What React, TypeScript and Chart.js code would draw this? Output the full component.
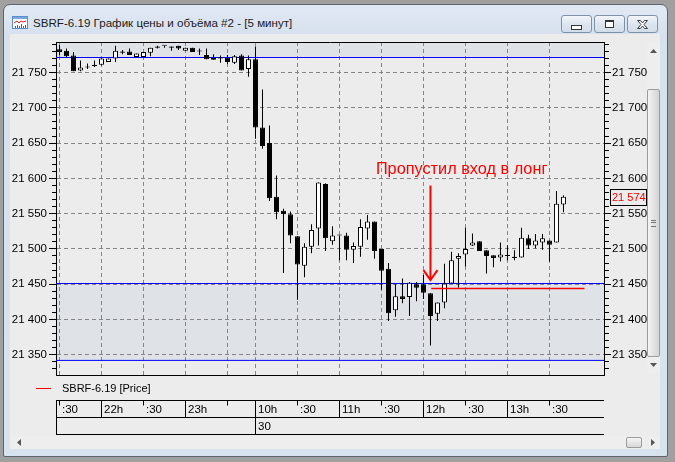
import React, { useEffect, useRef } from "react";
import { Chart, registerables } from "chart.js";

Chart.register(...registerables);

const FONT = "'Liberation Sans', Arial, sans-serif";

const windowTitle = "SBRF-6.19 График цены и объёма #2 - [5 минут]";
const seriesName = "SBRF-6.19 [Price]";
const annotationText = "Пропустил вход в лонг";

// 5-minute candles; index 0 = 21:30, index 28 = 10:00 (30th)
const opens = [
  21783, 21781, 21774, 21753, 21757, 21761, 21761, 21765, 21770, 21780,
  21780, 21772, 21772, 21778, 21787, 21788, 21787, 21788, 21781, 21785,
  21780, 21775, 21768, 21770, 21771, 21764, 21774, 21755, 21769, 21672,
  21650, 21574, 21554, 21549, 21518, 21476, 21503, 21529, 21592, 21511,
  21519, 21519, 21499, 21503, 21529, 21539, 21500, 21472, 21413, 21433,
  21432, 21450, 21450, 21437, 21408, 21424, 21451, 21486, 21492, 21505,
  21511, 21498, 21491, 21488, 21490, 21489, 21488, 21515, 21505, 21509,
  21512, 21509, 21563,
];
const highs = [
  21789, 21784, 21779, 21767, 21763, 21767, 21770, 21770, 21788, 21782,
  21784, 21777, 21779, 21785, 21788, 21788, 21787, 21788, 21785, 21785,
  21784, 21784, 21776, 21774, 21775, 21775, 21776, 21774, 21787, 21726,
  21675, 21604, 21557, 21553, 21518, 21508, 21535, 21594, 21593, 21532,
  21519, 21523, 21509, 21542, 21548, 21539, 21500, 21480, 21450, 21458,
  21453, 21453, 21463, 21437, 21424, 21479, 21496, 21494, 21530, 21522,
  21511, 21498, 21491, 21509, 21505, 21498, 21530, 21520, 21521, 21521,
  21512, 21582, 21576,
];
const lows = [
  21774, 21772, 21752, 21752, 21755, 21758, 21760, 21765, 21765, 21776,
  21775, 21772, 21772, 21773, 21784, 21785, 21781, 21782, 21781, 21779,
  21775, 21769, 21768, 21764, 21762, 21762, 21753, 21744, 21656, 21642,
  21568, 21542, 21466, 21508, 21428, 21460, 21494, 21505, 21497, 21506,
  21484, 21484, 21480, 21489, 21513, 21486, 21442, 21398, 21404, 21423,
  21405, 21426, 21429, 21363, 21398, 21416, 21451, 21445, 21475, 21504,
  21497, 21465, 21474, 21482, 21484, 21484, 21488, 21500, 21501, 21499,
  21482, 21509, 21552,
];
const closes = [
  21779, 21773, 21752, 21757, 21757, 21759, 21770, 21770, 21781, 21778,
  21775, 21777, 21779, 21785, 21785, 21788, 21785, 21784, 21785, 21779,
  21780, 21769, 21771, 21770, 21765, 21773, 21753, 21769, 21672, 21646,
  21572, 21552, 21549, 21519, 21478, 21503, 21527, 21594, 21515, 21519,
  21519, 21499, 21504, 21531, 21539, 21497, 21469, 21409, 21433, 21429,
  21452, 21445, 21438, 21405, 21424, 21451, 21484, 21490, 21500, 21509,
  21497, 21490, 21487, 21492, 21490, 21487, 21516, 21505, 21512, 21515,
  21506, 21564, 21574,
];

const priceMin = 21321.3;
const priceMax = 21793.3;
const priceTickFrom = 21330;
const priceTickTo = 21790;
const priceTickStep = 10;
const priceLabelStep = 50;
const indexMin = -0.5;
const indexMax = 77.79;

const timeTickIdx = [0, 6, 12, 18, 24, 28, 34, 40, 46, 52, 58, 64, 70];
const timeTickLabels = [":30", "22h", ":30", "23h", "", "10h", ":30", "11h", ":30", "12h", ":30", "13h", ":30"];
const hourDividerIdx = [6, 18, 28, 40, 52, 64];
const dateIdx = [28];
const dateLabels = ["30"];

const levelTop = 21771.3;
const levelMid = 21451;
const levelBottom = 21342;
const missedEntryLevel = 21444;
const missedEntryFrom = 53.1;
const missedEntryTo = 75;
const arrowIdx = 53;
const arrowTop = 21590;
const arrowTip = 21456;
const arrowWing = 21470;
const arrowWingSpan = 1;
const annotationIdx = 45.2;
const annotationPrice = 21612;
const lastPrice = 21574;

const fmtPrice = (v: number) =>
  `${Math.floor(v / 1000)} ${String(Math.round(v) % 1000).padStart(3, "0")}`;

const hline = (v: number, a = indexMin, b = indexMax) => [
  { x: a, y: v },
  { x: b, y: v },
];

const overlayPlugin = {
  id: "overlay",
  afterDraw(chart: any) {
    const { ctx, chartArea: a, scales } = chart;
    const xs = scales.x;
    const ys = scales.y;
    ctx.save();
    ctx.lineWidth = 1;
    ctx.strokeStyle = "#000";
    // top frame line
    const top = Math.round(a.top) + 0.5;
    ctx.beginPath();
    ctx.moveTo(a.left, top);
    ctx.lineTo(a.right + 1, top);
    ctx.stroke();

    // annotation
    ctx.font = `16.3px ${FONT}`;
    ctx.fillStyle = "#ff0000";
    ctx.textAlign = "left";
    ctx.textBaseline = "middle";
    ctx.fillText(annotationText, xs.getPixelForValue(annotationIdx), ys.getPixelForValue(annotationPrice));

    // last price marker on right axis
    const py = Math.round(ys.getPixelForValue(lastPrice));
    ctx.fillStyle = "#ececec";
    ctx.fillRect(a.right + 6, py - 8, 37, 16);
    ctx.strokeStyle = "#000";
    ctx.strokeRect(a.right + 6.5, py - 7.5, 36, 16);
    ctx.font = `11px ${FONT}`;
    ctx.fillStyle = "#ff0000";
    ctx.fillText(fmtPrice(lastPrice), a.right + 8, py + 0.5);

    // legend
    ctx.font = `11px ${FONT}`;
    const ly = Math.round(a.bottom + 13) + 0.5;
    ctx.strokeStyle = "#ff0000";
    ctx.beginPath();
    ctx.moveTo(a.left - 20, ly);
    ctx.lineTo(a.left - 5, ly);
    ctx.stroke();
    ctx.fillStyle = "#000";
    ctx.fillText(seriesName, a.left + 6, ly);

    // time table
    const t0 = Math.round(a.bottom + 25) + 0.5;
    const t1 = t0 + 17;
    const t2 = t0 + 34;
    ctx.strokeStyle = "#000";
    ctx.beginPath();
    [t0, t1, t2].forEach((ty) => {
      ctx.moveTo(a.left, ty);
      ctx.lineTo(a.right, ty);
    });
    ctx.moveTo(Math.round(a.left) + 0.5, t0);
    ctx.lineTo(Math.round(a.left) + 0.5, t2);
    timeTickIdx.forEach((i) => {
      const px = Math.floor(xs.getPixelForValue(i)) + 0.5;
      const full = hourDividerIdx.includes(i);
      const day = dateIdx.includes(i);
      ctx.moveTo(px, t0);
      ctx.lineTo(px, day ? t2 : full ? t1 : t0 + 5);
    });
    ctx.stroke();
    ctx.fillStyle = "#000";
    ctx.font = `11.5px ${FONT}`;
    timeTickIdx.forEach((i, k) => {
      const px = Math.floor(xs.getPixelForValue(i));
      ctx.fillText(timeTickLabels[k], px + 3, (t0 + t1) / 2 + 0.5);
    });
    dateIdx.forEach((i, k) => {
      const px = Math.floor(xs.getPixelForValue(i));
      ctx.fillText(dateLabels[k], px + 3, (t1 + t2) / 2 + 0.5);
    });
    ctx.restore();
  },
};

const majorTick = (c: any) => c.tick && Math.round(c.tick.value) % priceLabelStep === 0;

export default function App() {
  const canvasRef = useRef<HTMLCanvasElement | null>(null);

  useEffect(() => {
    document.body.style.margin = "0";
    document.body.style.background = "#a0a0a0";
    const canvas = canvasRef.current;
    if (!canvas) return;

    const idx = opens.map((_, i) => i);
    const bodyData = idx.map((i) => ({
      x: i,
      y: [Math.min(opens[i], closes[i]), Math.max(opens[i], closes[i])],
    }));
    const wickData = idx.map((i) => ({ x: i, y: [lows[i], highs[i]] }));
    const bodyColors = idx.map((i) => (closes[i] > opens[i] ? "#ffffff" : "#000000"));

    const priceTicks: { value: number }[] = [];
    for (let v = priceTickFrom; v <= priceTickTo; v += priceTickStep) priceTicks.push({ value: v });

    const lineBase = { type: "line", pointRadius: 0, tension: 0, borderWidth: 1 };
    const axisFont = { family: FONT, size: 11.5 };

    const chart = new Chart(canvas, {
      type: "bar",
      data: {
        datasets: [
          {
            ...lineBase,
            label: "arrow",
            data: [
              { x: arrowIdx, y: arrowTop },
              { x: arrowIdx, y: arrowTip },
            ],
            borderColor: "#ff0000",
            borderWidth: 2,
            fill: false,
            order: -2,
          },
          {
            ...lineBase,
            label: "arrowHead",
            data: [
              { x: arrowIdx - arrowWingSpan, y: arrowWing },
              { x: arrowIdx, y: arrowTip },
              { x: arrowIdx + arrowWingSpan, y: arrowWing },
            ],
            borderColor: "#ff0000",
            borderWidth: 2,
            fill: false,
            order: -2,
          },
          {
            ...lineBase,
            label: "missed",
            data: hline(missedEntryLevel, missedEntryFrom, missedEntryTo),
            borderColor: "#ff0000",
            borderWidth: 1.5,
            fill: false,
            order: -1,
          },
          {
            type: "bar",
            label: seriesName,
            data: bodyData,
            backgroundColor: bodyColors,
            borderColor: "#000000",
            borderWidth: 1,
            borderSkipped: false,
            barThickness: 5,
            minBarLength: 1,
            grouped: false,
            inflateAmount: 0,
            order: 0,
          },
          {
            type: "bar",
            label: "wicks",
            data: wickData,
            backgroundColor: "#000000",
            borderWidth: 0,
            barThickness: 1,
            grouped: false,
            inflateAmount: 0,
            order: 1,
          },
          {
            ...lineBase,
            label: "top",
            data: hline(levelTop),
            borderColor: "#0000ff",
            backgroundColor: "#dfe3e7",
            fill: "end",
            order: 2,
          },
          {
            ...lineBase,
            label: "mid",
            data: hline(levelMid),
            borderColor: "#0000ff",
            backgroundColor: "#dfe3e7",
            fill: "+1",
            order: 2,
          },
          {
            ...lineBase,
            label: "bottom",
            data: hline(levelBottom),
            borderColor: "#0000ff",
            fill: false,
            order: 2,
          },
        ] as any,
      },
      options: {
        responsive: false,
        animation: false,
        events: [],
        layout: { padding: { top: 12, left: 0, right: 0, bottom: 65 } },
        plugins: {
          legend: { display: false },
          tooltip: { enabled: false },
          filler: { drawTime: "beforeDraw" },
        } as any,
        scales: {
          x: {
            type: "linear",
            min: indexMin,
            max: indexMax,
            offset: false,
            afterBuildTicks: (s: any) => {
              s.ticks = timeTickIdx.map((v) => ({ value: v }));
            },
            afterFit: (s: any) => {
              s.height = 0;
            },
            ticks: { display: false },
            grid: { offset: false, color: "#858585", drawTicks: false, tickLength: 0 },
            border: { display: true, color: "#000", dash: [4, 3] },
          },
          y: {
            position: "left",
            min: priceMin,
            max: priceMax,
            beginAtZero: false,
            afterBuildTicks: (s: any) => {
              s.ticks = priceTicks.map((t) => ({ ...t }));
            },
            afterFit: (s: any) => {
              s.width = 48;
            },
            ticks: {
              autoSkip: false,
              padding: 2,
              color: "#000",
              font: axisFont,
              callback: (v: any) => (Math.round(v) % priceLabelStep === 0 ? fmtPrice(v) : ""),
            },
            grid: {
              color: (c: any) => (majorTick(c) ? "#858585" : "rgba(0,0,0,0)"),
              tickColor: "#000",
              tickLength: 7,
              tickBorderDash: (c: any) => (majorTick(c) ? [] : [0, 3, 4, 20]),
            },
            border: { display: true, color: "#000", dash: [4, 3] },
          },
          y2: {
            position: "right",
            min: priceMin,
            max: priceMax,
            beginAtZero: false,
            afterBuildTicks: (s: any) => {
              s.ticks = priceTicks.map((t) => ({ ...t }));
            },
            afterFit: (s: any) => {
              s.width = 50;
            },
            ticks: {
              autoSkip: false,
              padding: 1,
              color: "#000",
              font: axisFont,
              callback: (v: any) => (Math.round(v) % priceLabelStep === 0 ? fmtPrice(v) : ""),
            },
            grid: {
              drawOnChartArea: false,
              tickColor: "#000",
              tickLength: 7,
              tickBorderDash: (c: any) => (majorTick(c) ? [] : [4, 20]),
            },
            border: { display: true, color: "#000" },
          },
        } as any,
      },
      plugins: [overlayPlugin],
    } as any);

    return () => chart.destroy();
  }, []);

  const btn = (left: number, glyph: React.ReactNode) => (
    <div
      style={{
        position: "absolute",
        left,
        top: 15,
        width: 29,
        height: 16,
        border: "1px solid #8092aa",
        borderRadius: 3,
        background: "linear-gradient(#f3f6fa, #dde5ef 50%, #d3dde9)",
        display: "flex",
        alignItems: "center",
        justifyContent: "center",
      }}
    >
      {glyph}
    </div>
  );

  return (
    <div
      style={{
        position: "relative",
        width: 675,
        height: 462,
        background: "#a0a0a0",
        overflow: "hidden",
        fontFamily: FONT,
      }}
    >
      <div
        style={{
          position: "absolute",
          left: 3,
          top: 4,
          width: 663,
          height: 451,
          border: "1px solid #5d646c",
          borderRadius: "7px 7px 2px 2px",
          background: "linear-gradient(#e1e9f4, #d6e1ee 30px, #d8e3f0)",
        }}
      />
      <svg style={{ position: "absolute", left: 12, top: 16 }} width="16" height="13">
        <rect x="0.5" y="0.5" width="15" height="12" fill="#fff" stroke="#5b8fd2" />
        <rect x="1" y="1" width="14" height="2" fill="#7aa7de" />
        <polyline points="2,7 5,5 7,7 9,5 11,6 14,5" fill="none" stroke="#e02020" />
        <path d="M3.5 12V10M5.5 12V9M7.5 12V10M9.5 12V8M11.5 12V10M13.5 12V9" stroke="#2a66c4" />
      </svg>
      <div
        style={{
          position: "absolute",
          left: 33,
          top: 16,
          fontSize: 11.6,
          lineHeight: "14px",
          color: "#1b1b1b",
          whiteSpace: "nowrap",
        }}
      >
        {windowTitle}
      </div>
      {btn(561, <div style={{ width: 9, height: 3, border: "1px solid #30343a", background: "#fff", marginTop: 6 }} />)}
      {btn(594, <div style={{ width: 7, height: 5, border: "1px solid #30343a", borderTopWidth: 2, background: "#fff" }} />)}
      {btn(
        627,
        <svg width="13" height="11">
          <path
            d="M1.5 1.5h3l2 2.5 2-2.5h3l-3.5 4 3.5 4h-3l-2-2.5-2 2.5h-3l3.5-4z"
            fill="#fff"
            stroke="#3a3f46"
          />
        </svg>
      )}
      <div style={{ position: "absolute", left: 10, top: 34, width: 650, height: 415, background: "#ececec" }} />
      {/* vertical scrollbar */}
      <div style={{ position: "absolute", left: 647, top: 42, width: 13, height: 331, background: "#eeeeee" }}>
        <svg style={{ position: "absolute", left: 3, top: 7 }} width="7" height="4">
          <path d="M0 4L3.5 0L7 4z" fill="#555" />
        </svg>
        <div
          style={{
            position: "absolute",
            left: 0,
            top: 47,
            width: 11,
            height: 266,
            border: "1px solid #9c9c9c",
            borderRadius: 2,
            background: "linear-gradient(to right, #f4f4f4, #e2e2e2 50%, #d4d4d4)",
          }}
        >
          <div style={{ position: "absolute", left: 3, top: 130, width: 5, height: 5, borderTop: "1px solid #777", borderBottom: "1px solid #777" }} />
          <div style={{ position: "absolute", left: 3, top: 132, width: 5, height: 1, background: "#777" }} />
        </div>
        <svg style={{ position: "absolute", left: 3, top: 321 }} width="7" height="4">
          <path d="M0 0L3.5 4L7 0z" fill="#555" />
        </svg>
      </div>
      {/* horizontal scrollbar */}
      <div style={{ position: "absolute", left: 11, top: 436, width: 648, height: 13, background: "#eeeeee" }}>
        <svg style={{ position: "absolute", left: 6, top: 3 }} width="4" height="7">
          <path d="M4 0L0 3.5L4 7z" fill="#555" />
        </svg>
        <div
          style={{
            position: "absolute",
            left: 615,
            top: 1,
            width: 14,
            height: 9,
            border: "1px solid #9c9c9c",
            borderRadius: 2,
            background: "linear-gradient(#f4f4f4, #d8d8d8)",
          }}
        />
        <svg style={{ position: "absolute", left: 640, top: 3 }} width="4" height="7">
          <path d="M0 0L4 3.5L0 7z" fill="#555" />
        </svg>
      </div>
      <canvas ref={canvasRef} width={646} height={410} style={{ position: "absolute", left: 8, top: 30 }} />
    </div>
  );
}
